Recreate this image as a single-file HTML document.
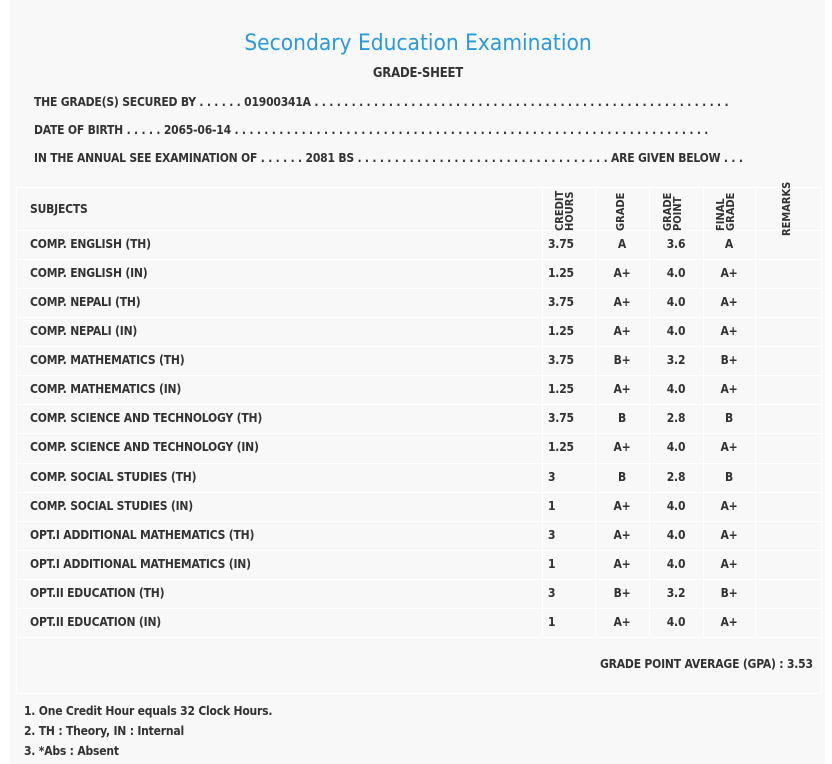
<!DOCTYPE html>
<html><head><meta charset="utf-8"><style>
body{margin:0;width:832px;height:764px;background:#fff;font-family:"DejaVu Sans Condensed","Liberation Sans",sans-serif;color:#333;overflow:hidden}
#p{position:absolute;left:10px;top:0;width:815px;height:764px;background:#f8f8f8}
.t{position:absolute;white-space:nowrap;font-size:12px;font-weight:bold;letter-spacing:-0.2px}
.hl{position:absolute;left:16px;width:805px;height:1px;background:#fff}
.vl{position:absolute;width:1px;background:#fff}
.r{position:absolute;font-size:11px;font-weight:bold;font-family:"DejaVu Sans Condensed","Liberation Sans",sans-serif;transform:rotate(-90deg);transform-origin:left top;line-height:10px;white-space:nowrap}
</style></head><body>
<div id="p"></div>
<div class="t" style="left:0;width:836px;text-align:center;top:30px;font-size:22.5px;font-weight:normal;color:#2a9ae0;font-family:'DejaVu Sans Condensed','Liberation Sans',sans-serif;letter-spacing:0">Secondary Education Examination</div>
<div class="t" style="left:0;width:836px;text-align:center;top:66px;font-size:13px">GRADE-SHEET</div>
<div class="t" style="left:34px;top:95px">THE GRADE(S) SECURED BY . . . . . . 01900341A . . . . . . . . . . . . . . . . . . . . . . . . . . . . . . . . . . . . . . . . . . . . . . . . . . . . . . . .</div>
<div class="t" style="left:34px;top:123px">DATE OF BIRTH . . . . . 2065-06-14 . . . . . . . . . . . . . . . . . . . . . . . . . . . . . . . . . . . . . . . . . . . . . . . . . . . . . . . . . . . . . . . .</div>
<div class="t" style="left:34px;top:151px">IN THE ANNUAL SEE EXAMINATION OF . . . . . . 2081 BS . . . . . . . . . . . . . . . . . . . . . . . . . . . . . . . . . . ARE GIVEN BELOW . . .</div>
<div id="tb"></div>
<div class="t" style="left:30px;top:202px">SUBJECTS</div>
<div class="r" style="left:555px;top:231px">CREDIT<br>HOURS</div>
<div class="r" style="left:616px;top:231px">GRADE</div>
<div class="r" style="left:663px;top:231px">GRADE<br>POINT</div>
<div class="r" style="left:716px;top:231px">FINAL<br>GRADE</div>
<div class="r" style="left:782px;top:236px">REMARKS</div>
<div class="t" style="left:600px;top:657px">GRADE POINT AVERAGE (GPA) : 3.53</div>
<div class="t" style="left:24px;top:704px">1. One Credit Hour equals 32 Clock Hours.</div>
<div class="t" style="left:24px;top:724px">2. TH : Theory, IN : Internal</div>
<div class="t" style="left:24px;top:744px">3. *Abs : Absent</div>
<script>
var rows=[["COMP. ENGLISH (TH)","3.75","A","3.6","A"],["COMP. ENGLISH (IN)","1.25","A+","4.0","A+"],["COMP. NEPALI (TH)","3.75","A+","4.0","A+"],["COMP. NEPALI (IN)","1.25","A+","4.0","A+"],["COMP. MATHEMATICS (TH)","3.75","B+","3.2","B+"],["COMP. MATHEMATICS (IN)","1.25","A+","4.0","A+"],["COMP. SCIENCE AND TECHNOLOGY (TH)","3.75","B","2.8","B"],["COMP. SCIENCE AND TECHNOLOGY (IN)","1.25","A+","4.0","A+"],["COMP. SOCIAL STUDIES (TH)","3","B","2.8","B"],["COMP. SOCIAL STUDIES (IN)","1","A+","4.0","A+"],["OPT.I ADDITIONAL MATHEMATICS (TH)","3","A+","4.0","A+"],["OPT.I ADDITIONAL MATHEMATICS (IN)","1","A+","4.0","A+"],["OPT.II EDUCATION (TH)","3","B+","3.2","B+"],["OPT.II EDUCATION (IN)","1","A+","4.0","A+"]];
var h='';
var ys=[187,230];for(var i=1;i<=14;i++)ys.push(Math.round(230+i*29.07));ys.push(693);
ys.forEach(function(y){h+='<div class="hl" style="top:'+y+'px"></div>';});
[542,595,649,703,755].forEach(function(x){h+='<div class="vl" style="left:'+x+'px;top:187px;height:449px"></div>';});
h+='<div class="vl" style="left:16px;top:187px;height:506px"></div><div class="vl" style="left:821px;top:187px;height:506px"></div>';
rows.forEach(function(r,i){var y=Math.round(237+i*29.07);
h+='<div class="t" style="left:30px;top:'+y+'px">'+r[0]+'</div>';
h+='<div class="t" style="left:548px;top:'+y+'px">'+r[1]+'</div>';
[[622,2],[676,3],[729,4]].forEach(function(c){h+='<div class="t" style="left:'+(c[0]-20)+'px;width:40px;text-align:center;top:'+y+'px">'+r[c[1]]+'</div>';});});
document.getElementById('tb').innerHTML=h;
</script>
</body></html>
